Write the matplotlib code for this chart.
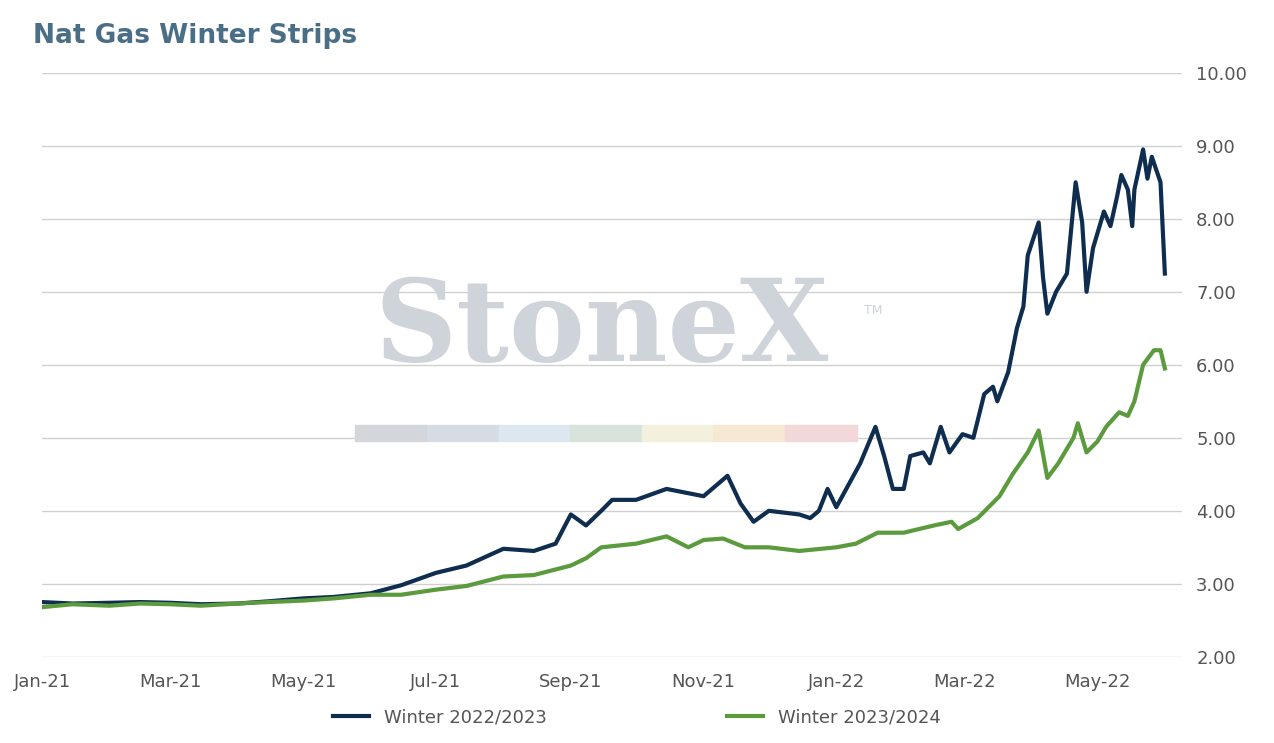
import matplotlib
matplotlib.use("Agg")
import matplotlib.pyplot as plt
import pandas as pd

dark_dates = ["2021-01-01","2021-01-15","2021-02-01","2021-02-15","2021-03-01","2021-03-15","2021-04-01","2021-04-15",
 "2021-05-01","2021-05-15","2021-06-01","2021-06-15","2021-07-01","2021-07-15","2021-08-01","2021-08-15",
 "2021-08-25","2021-09-01","2021-09-08","2021-09-15","2021-09-20","2021-10-01","2021-10-15","2021-11-01",
 "2021-11-12","2021-11-18","2021-11-24","2021-12-01","2021-12-15","2021-12-20","2021-12-24","2021-12-28",
 "2022-01-01","2022-01-12","2022-01-19","2022-01-23","2022-01-27","2022-02-01","2022-02-04","2022-02-10",
 "2022-02-13","2022-02-18","2022-02-22","2022-02-28","2022-03-05","2022-03-10","2022-03-14","2022-03-16",
 "2022-03-21","2022-03-25","2022-03-28","2022-03-30","2022-04-04","2022-04-06","2022-04-08","2022-04-12",
 "2022-04-17","2022-04-21","2022-04-24","2022-04-26","2022-04-29","2022-05-04","2022-05-07","2022-05-10",
 "2022-05-12","2022-05-15","2022-05-17","2022-05-18","2022-05-22","2022-05-24","2022-05-26","2022-05-30","2022-06-01"]
dark_vals = [2.75,2.73,2.74,2.75,2.74,2.72,2.73,2.76,2.80,2.82,2.87,2.98,3.15,3.25,3.48,3.45,3.55,3.95,3.80,4.00,
 4.15,4.15,4.30,4.20,4.48,4.10,3.85,4.00,3.95,3.90,4.00,4.30,4.05,4.65,5.15,4.75,4.30,4.30,4.75,4.80,
 4.65,5.15,4.80,5.05,5.00,5.60,5.70,5.50,5.90,6.50,6.80,7.50,7.95,7.20,6.70,7.00,
 7.25,8.50,7.95,7.00,7.60,8.10,7.90,8.30,8.60,8.40,7.90,8.40,8.95,8.55,8.85,8.50,7.25]

green_dates = ["2021-01-01","2021-01-15","2021-02-01","2021-02-15","2021-03-01","2021-03-15","2021-04-01","2021-04-15",
 "2021-05-01","2021-05-15","2021-06-01","2021-06-15","2021-07-01","2021-07-15","2021-08-01","2021-08-15",
 "2021-09-01","2021-09-08","2021-09-15","2021-10-01","2021-10-15","2021-10-25","2021-11-01","2021-11-10",
 "2021-11-20","2021-12-01","2021-12-15","2022-01-01","2022-01-10","2022-01-20","2022-02-01","2022-02-15",
 "2022-02-23","2022-02-26","2022-03-07","2022-03-17","2022-03-23","2022-03-30","2022-04-04","2022-04-08",
 "2022-04-13","2022-04-20","2022-04-22","2022-04-26","2022-05-01","2022-05-05","2022-05-11","2022-05-15",
 "2022-05-18","2022-05-22","2022-05-27","2022-05-30","2022-06-01"]
green_vals = [2.68,2.72,2.70,2.73,2.72,2.70,2.73,2.75,2.77,2.80,2.85,2.85,2.92,2.97,3.10,3.12,3.25,3.35,3.50,3.55,
 3.65,3.50,3.60,3.62,3.50,3.50,3.45,3.50,3.55,3.70,3.70,3.80,3.85,3.75,3.90,4.20,4.50,4.80,5.10,4.45,
 4.65,5.00,5.20,4.80,4.95,5.15,5.35,5.30,5.50,6.00,6.20,6.20,5.95]

ticks = ["2021-01-01","2021-03-01","2021-05-01","2021-07-01","2021-09-01","2021-11-01","2022-01-01","2022-03-01","2022-05-01"]
tick_labels = ["Jan-21","Mar-21","May-21","Jul-21","Sep-21","Nov-21","Jan-22","Mar-22","May-22"]

fig = plt.figure(figsize=(12.74, 7.43), dpi=100)
ax = fig.add_axes([0.033, 0.116, 0.895, 0.786])
ax.plot(pd.to_datetime(dark_dates), dark_vals, color="#0e2d4f", lw=3, label="Winter 2022/2023", zorder=3)
ax.plot(pd.to_datetime(green_dates), green_vals, color="#5b9b3d", lw=3, label="Winter 2023/2024", zorder=3)
ax.set_ylim(2, 10)
ax.set_xlim(pd.Timestamp("2021-01-01"), pd.Timestamp("2022-06-09"))
ax.set_yticks([2,3,4,5,6,7,8,9,10])
ax.set_yticklabels([f"{v:.2f}" for v in range(2,11)])
ax.yaxis.tick_right()
ax.set_xticks(pd.to_datetime(ticks))
ax.set_xticklabels(tick_labels)
ax.grid(axis="y", color="#d0d0d0", lw=1)
for s in ax.spines.values(): s.set_visible(False)
ax.tick_params(length=0, labelsize=13, colors="#555555", pad=10)
ax.tick_params(axis="x", pad=12)

# watermark
fig.text(0.472, 0.556, "StoneX", fontsize=82, family="DejaVu Serif", fontweight="bold", color="#cfd4da",
         ha="center", va="center", zorder=0)
fig.text(0.678, 0.578, "TM", fontsize=9, color="#cfd4da")
cols = ["#d3d6da","#d6dce3","#dde7ef","#d8e3dc","#f3f1dd","#f6e8d3","#f2d8d8"]
for i, c in enumerate(cols):
    fig.patches.append(plt.Rectangle((0.279 + i*0.0562, 0.406), 0.0562, 0.022, transform=fig.transFigure, color=c, zorder=0))

fig.text(0.026, 0.952, "Nat Gas Winter Strips", fontsize=19, fontweight="bold", color="#4b6e87", va="center")
leg = fig.legend(loc="lower center", ncol=2, bbox_to_anchor=(0.5, 0.0), frameon=False, fontsize=13,
                 handlelength=2, columnspacing=10)
for t in leg.get_texts(): t.set_color("#555555")
fig.savefig("out.png", dpi=100)
